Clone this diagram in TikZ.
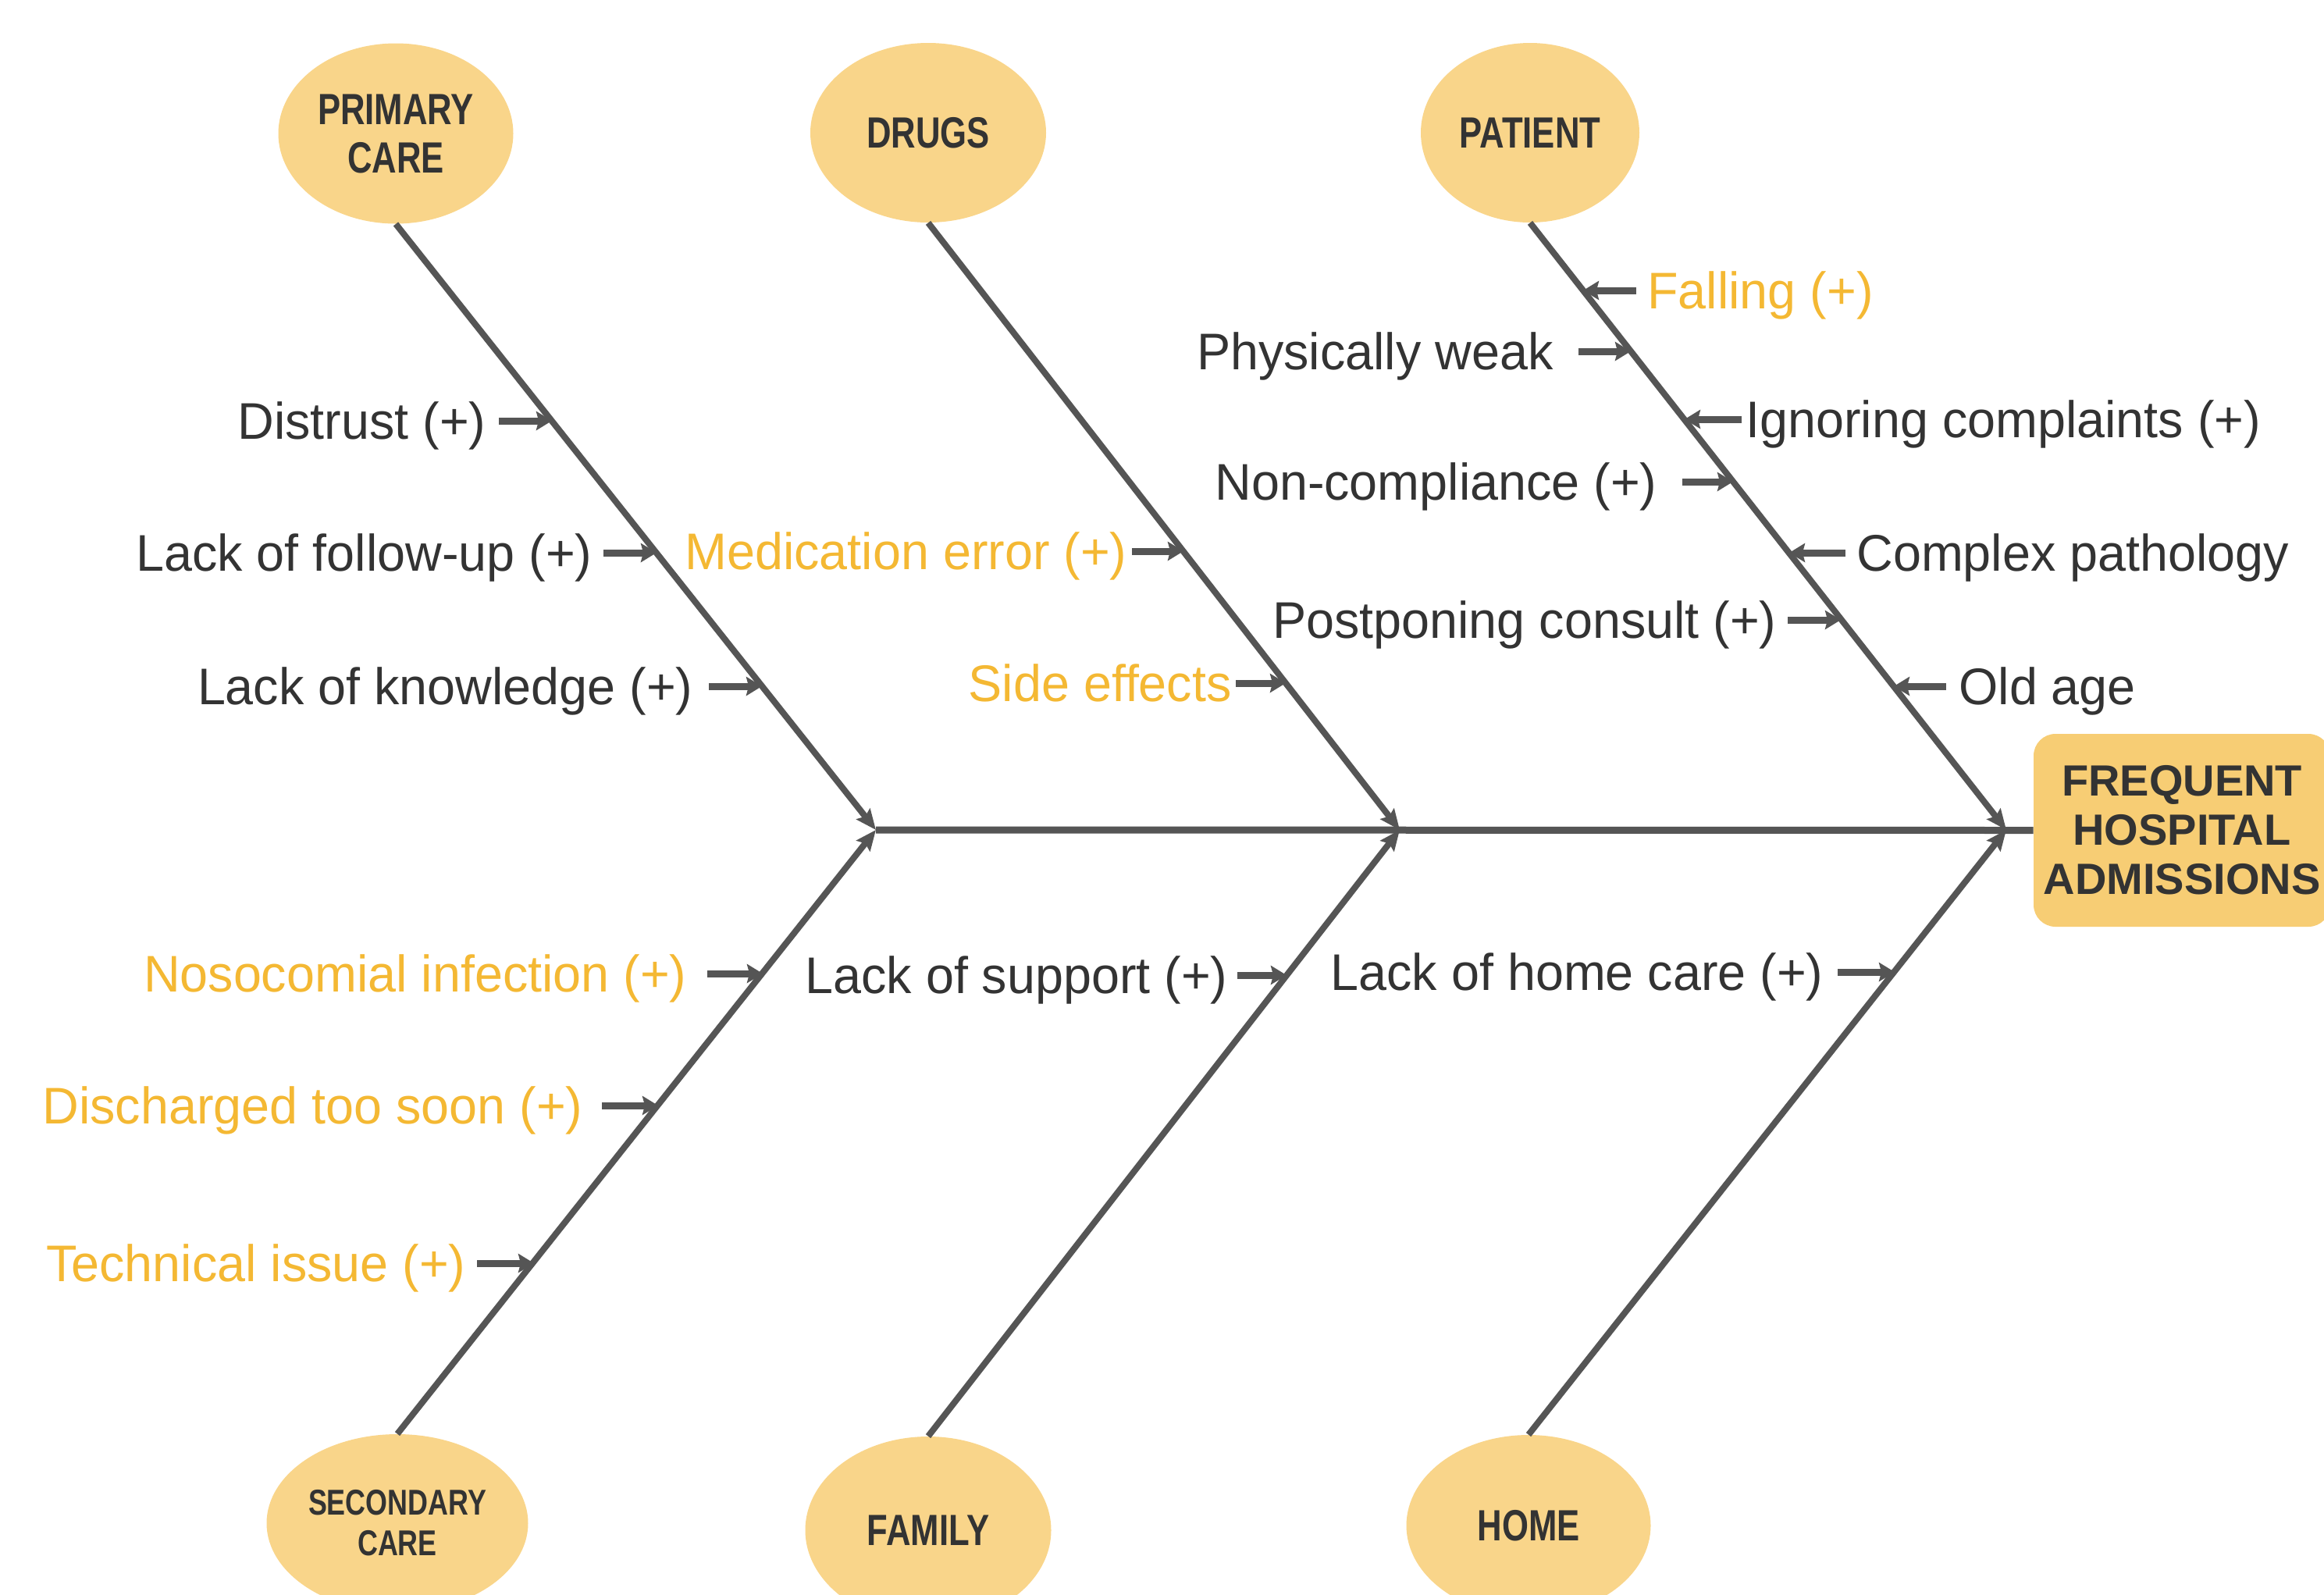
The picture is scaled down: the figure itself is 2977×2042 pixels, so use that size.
\documentclass[tikz,border=0pt]{standalone}
\usepackage{fontspec}
\setmainfont[FakeStretch=0.98]{Liberation Sans}
\newfontfamily\ovalfont[FakeStretch=0.78]{Liberation Sans}
\newfontfamily\boxfont{Liberation Sans}
\usetikzlibrary{shapes.geometric,arrows.meta}
\definecolor{ovalfill}{HTML}{F9D58A}
\definecolor{boxfill}{HTML}{F7CD74}
\definecolor{txt}{HTML}{333333}
\definecolor{ln}{HTML}{555555}
\definecolor{org}{HTML}{F4B833}
\begin{document}
\begin{tikzpicture}[x=0.5pt,y=-0.5pt,
  cat/.style={ellipse, fill=ovalfill, inner sep=0pt, text=txt, align=center,
    font=\ovalfont\bfseries\fontsize{28}{31}\selectfont},
  lbl/.style={text=txt, font=\fontsize{33}{40}\selectfont, inner ysep=0pt,
    text height=30pt, text depth=7pt},
  olbl/.style={lbl, text=org},
  branch/.style={draw=ln, line width=4pt, -{Stealth[length=13pt,width=11pt,inset=2pt]}},
  cause/.style={draw=ln, line width=4.5pt, -{Stealth[length=10pt,width=12pt,inset=1.5pt]}},
  spine/.style={draw=ln, line width=4.5pt}]
\useasboundingbox (0,0) rectangle (2977,2042);
\clip (0,0) rectangle (2977,2042);

% category ovals
\node[cat, minimum width=150.5pt, minimum height=115.5pt] (pc) at (507,171) {PRIMARY\\CARE};
\node[cat, minimum width=151pt, minimum height=115pt] (dr) at (1189,170) {DRUGS};
\node[cat, minimum width=140pt, minimum height=115pt] (pa) at (1960,170) {PATIENT};
\node[cat, minimum width=167.5pt, minimum height=114pt,
  font=\ovalfont\bfseries\fontsize{23}{26}\selectfont] (sc) at (509,1951) {SECONDARY\\CARE};
\node[cat, minimum width=157.5pt, minimum height=120pt] (fa) at (1189,1960) {FAMILY};
\node[cat, minimum width=156.5pt, minimum height=116pt] (ho) at (1958,1954) {HOME};

% effect box
\node[fill=boxfill, rounded corners=14pt, minimum width=190pt, minimum height=123.5pt,
  inner sep=0pt, align=center, text=txt, font=\boxfont\bfseries\fontsize{28}{31.5}\selectfont]
  (fha) at (2795,1063.5) {FREQUENT\\HOSPITAL\\ADMISSIONS};

% junctions
\coordinate (J1) at (1122,1063);
\coordinate (J2) at (1793,1063);
\coordinate (J3) at (2570,1063);

\draw[spine] (J1) -- (fha.west);
\draw[branch] (pc.south) -- (J1);
\draw[branch] (sc.north) -- (J1);
\draw[branch] (dr.south) -- (J2);
\draw[branch] (fa.north) -- (J2);
\draw[branch] (pa.south) -- (J3);
\draw[branch] (ho.north) -- (J3);

% PRIMARY CARE causes
\node[lbl, anchor=east, inner xsep=8pt] (c1) at (639,539) {Distrust (+)};
\coordinate (t1) at (707,539);
\draw[cause] (c1.east) -- (t1);
\node[lbl, anchor=east, inner xsep=7pt] (c2) at (773,708) {Lack of follow-up (+)};
\coordinate (t2) at (841,708);
\draw[cause] (c2.east) -- (t2);
\node[lbl, anchor=east, inner xsep=10pt] (c3) at (908,879) {Lack of knowledge (+)};
\coordinate (t3) at (976,879);
\draw[cause] (c3.east) -- (t3);

% DRUGS causes
\node[olbl, anchor=east, inner xsep=3pt] (c4) at (1450,706) {Medication error (+)};
\coordinate (t4) at (1516,706);
\draw[cause] (c4.east) -- (t4);
\node[olbl, anchor=east, inner xsep=2.5pt] (c5) at (1583,875) {Side effects};
\coordinate (t5) at (1647,875);
\draw[cause] (c5.east) -- (t5);

% PATIENT causes
\node[olbl, anchor=west, inner xsep=7pt] (c6) at (2096,372) {Falling (+)};
\coordinate (t6) at (2028,372);
\draw[cause] (c6.west) -- (t6);
\node[lbl, anchor=east, inner xsep=16pt] (c7) at (2022,450) {Physically weak};
\coordinate (t7) at (2089,450);
\draw[cause] (c7.east) -- (t7);
\node[lbl, anchor=west, inner xsep=2.5pt] (c8) at (2231,537) {Ignoring complaints (+)};
\coordinate (t8) at (2158,537);
\draw[cause] (c8.west) -- (t8);
\node[lbl, anchor=east, inner xsep=16pt] (c9) at (2155,617) {Non-compliance (+)};
\coordinate (t9) at (2220,617);
\draw[cause] (c9.east) -- (t9);
\node[lbl, anchor=west, inner xsep=7pt] (c10) at (2364,708) {Complex pathology};
\coordinate (t10) at (2292,708);
\draw[cause] (c10.west) -- (t10);
\node[lbl, anchor=east, inner xsep=7pt] (c11) at (2290,794) {Postponing consult (+)};
\coordinate (t11) at (2358,794);
\draw[cause] (c11.east) -- (t11);
\node[lbl, anchor=west, inner xsep=8pt] (c12) at (2493,879) {Old age};
\coordinate (t12) at (2426,879);
\draw[cause] (c12.west) -- (t12);

% SECONDARY CARE causes
\node[olbl, anchor=east, inner xsep=13pt] (c13) at (906,1247) {Nosocomial infection (+)};
\coordinate (t13) at (977,1247);
\draw[cause] (c13.east) -- (t13);
\node[olbl, anchor=east, inner xsep=12pt] (c14) at (771,1416) {Discharged too soon (+)};
\coordinate (t14) at (843,1416);
\draw[cause] (c14.east) -- (t14);
\node[olbl, anchor=east, inner xsep=7pt] (c15) at (611,1618) {Technical issue (+)};
\coordinate (t15) at (684,1618);
\draw[cause] (c15.east) -- (t15);

% FAMILY cause
\node[lbl, anchor=east, inner xsep=6pt] (c16) at (1585,1249) {Lack of support (+)};
\coordinate (t16) at (1648,1249);
\draw[cause] (c16.east) -- (t16);

% HOME cause
\node[lbl, anchor=east, inner xsep=9pt] (c17) at (2354,1245) {Lack of home care (+)};
\coordinate (t17) at (2427,1245);
\draw[cause] (c17.east) -- (t17);
\end{tikzpicture}
\end{document}
